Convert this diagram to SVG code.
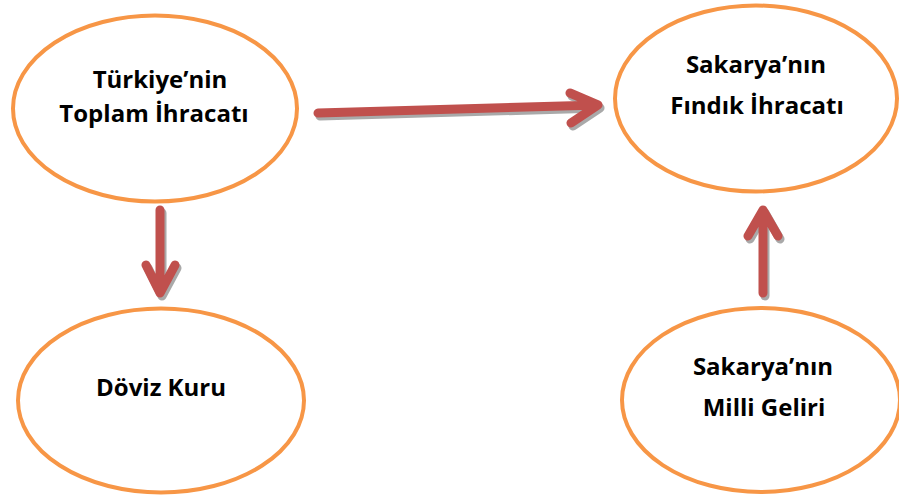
<svg xmlns="http://www.w3.org/2000/svg" width="899" height="500" viewBox="0 0 899 500">
<style>
.node ellipse{fill:#FFFFFF;stroke:#F79646;stroke-width:4}
.node text{font-family:"Open Sans","Liberation Sans",sans-serif;font-weight:bold;font-size:24px;fill:#000000;text-anchor:middle}
.arr{fill:none;stroke:#C0504D;stroke-width:9;stroke-linecap:round;stroke-linejoin:round}
.sh{fill:none;stroke:#8C8C8C;stroke-opacity:0.75;stroke-width:9;stroke-linecap:round;stroke-linejoin:round}
</style>
<rect width="899" height="500" fill="#FFFFFF"/>
<g id="connectors">
  <g id="c1">
    <path class="sh" transform="translate(2,3)" d="M318,113 L598,105 M570,93 L598,105 L571,123"/>
    <path class="arr" d="M318,113 L598,105 M570,93 L598,105 L571,123"/>
  </g>
  <g id="c2">
    <path class="sh" transform="translate(2,3)" d="M160,210 L160,293 M146,265 L160,293 L175,265"/>
    <path class="arr" d="M160,210 L160,293 M146,265 L160,293 L175,265"/>
  </g>
  <g id="c3">
    <path class="sh" transform="translate(2,3)" d="M763,293 L763,210 M748,236 L763,210 L778,236"/>
    <path class="arr" d="M763,293 L763,210 M748,236 L763,210 L778,236"/>
  </g>
</g>
<g id="n1" class="node">
  <ellipse cx="155" cy="108.5" rx="142" ry="93"/>
  <text x="160" y="88">Türkiye’nin</text>
  <text x="154" y="122">Toplam İhracatı</text>
</g>
<g id="n2" class="node">
  <ellipse cx="756" cy="98.5" rx="141" ry="93"/>
  <text x="756" y="73">Sakarya’nın</text>
  <text x="757" y="114">Fındık İhracatı</text>
</g>
<g id="n3" class="node">
  <ellipse cx="161" cy="400.5" rx="143" ry="92"/>
  <text x="161" y="396">Döviz Kuru</text>
</g>
<g id="n4" class="node">
  <ellipse cx="761" cy="400" rx="139" ry="92"/>
  <text x="763" y="375">Sakarya’nın</text>
  <text x="764" y="416">Milli Geliri</text>
</g>
</svg>
